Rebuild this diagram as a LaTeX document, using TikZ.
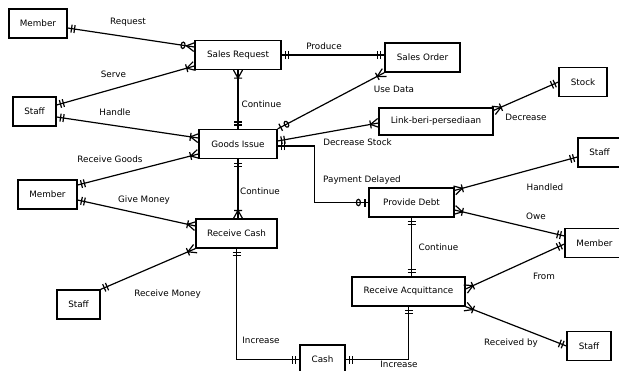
\documentclass[tikz,border=0pt]{standalone}
\usepackage{fontspec}
\setmainfont{DejaVu Sans}
\usetikzlibrary{decorations.markings}

% crow's foot ends, drawn with the entity at the origin
\newcommand{\erOne}{\draw (-4pt,-4pt) -- (-4pt,4pt) (-7pt,-4pt) -- (-7pt,4pt);}
\newcommand{\erMany}{\draw (0pt,-4.5pt) -- (-8pt,0pt) -- (0pt,4.5pt) (-8pt,-4pt) -- (-8pt,4pt);}
\newcommand{\erZeroMany}{\draw (0pt,-4.5pt) -- (-8pt,0pt) -- (0pt,4.5pt); \draw (-11.5pt,0pt) ellipse (2pt and 3.2pt);}
\newcommand{\erZeroOne}{\draw (-3.5pt,-4pt) -- (-3.5pt,4pt); \draw (-10pt,0pt) ellipse (2pt and 3.2pt);}

\begin{document}
\begin{tikzpicture}[x=1pt, y=-1pt, very thick, font=\fontsize{8.8}{10}\selectfont,
    ent/.style = {draw, rectangle, minimum height=29pt, inner sep=0pt},
    begin mark/.style = {postaction={decorate, decoration={markings, mark=at position 0 with {\pgftransformxscale{-1}#1}}}},
    end mark/.style = {postaction={decorate, decoration={markings, mark=at position 1 with {#1}}}}]
    \useasboundingbox (0,0) rectangle (619,370);
    % entities
    \node[ent, minimum width=58pt] (1) at (38,23.5) {Member};
    \node[ent, minimum width=86pt] (2) at (238,55) {Sales Request};
    \node[ent, minimum width=75pt] (3) at (422.5,57.5) {Sales Order};
    \node[ent, minimum width=43pt] (4) at (34.5,111.5) {Staff};
    \node[ent, minimum width=48pt] (5) at (583,82) {Stock};
    \node[ent, minimum width=114pt, minimum height=27pt] (6) at (436,121.5) {Link-beri-persediaan};
    \node[ent, minimum width=78pt] (7) at (238,144) {Goods Issue};
    \node[ent, minimum width=59pt] (8) at (47.5,194.5) {Member};
    \node[ent, minimum width=81pt] (9) at (236.5,233.5) {Receive Cash};
    \node[ent, minimum width=43pt] (10) at (599.5,152.5) {Staff};
    \node[ent, minimum width=85pt] (11) at (411.5,202.5) {Provide Debt};
    \node[ent, minimum width=59pt] (12) at (594.5,243) {Member};
    \node[ent, minimum width=43pt] (13) at (78.5,304.5) {Staff};
    \node[ent, minimum width=113pt] (14) at (408.5,291.5) {Receive Acquittance};
    \node[ent, minimum width=44pt] (15) at (589,346) {Staff};
    \node[ent, minimum width=45pt] (16) at (322.5,359.5) {Cash};

    % relations
    \draw[begin mark=\erOne, end mark=\erZeroMany] ([yshift=-4.5pt]1.east) -- ([yshift=8pt]2.west);
    \draw[begin mark=\erOne, end mark=\erMany] ([yshift=6.5pt]4.east) -- ([yshift=-11pt]2.west);
    \draw[begin mark=\erOne, end mark=\erOne] (2.east) -- (2.east -| 3.west);
    \draw[begin mark=\erMany, end mark=\erOne] (2.south) -- (7.north);
    \draw[begin mark=\erZeroOne, end mark=\erMany] (7.north east) -- (3.south west);
    \draw[begin mark=\erOne, end mark=\erMany] ([yshift=-5.5pt]4.east) -- ([yshift=6pt]7.west);
    \draw[begin mark=\erOne, end mark=\erMany] ([yshift=3pt]7.east) -- ([yshift=-1.5pt]6.west);
    \draw[begin mark=\erMany, end mark=\erOne] ([yshift=-3pt]6.north east) -- (5.west);
    \draw[begin mark=\erOne, end mark=\erZeroOne] ([yshift=-2pt]7.east) -- ++(37,0) |- (11.west);
    \draw[begin mark=\erOne, end mark=\erMany] ([yshift=9.5pt]8.east) -- ([yshift=-10pt]7.west);
    \draw[begin mark=\erOne, end mark=\erMany] ([yshift=-5.5pt]8.east) -- ([yshift=7.5pt]9.west);
    \draw[begin mark=\erOne, end mark=\erMany] (7.south) -- (7.south |- 9.north);
    \draw[begin mark=\erOne, end mark=\erMany] (13.north east) -- (9.south west);
    \draw[begin mark=\erOne, end mark=\erOne] (9.south) |- (16.west);
    \draw[begin mark=\erOne, end mark=\erOne] (16.east) -| (14.south);
    \draw[begin mark=\erOne, end mark=\erOne] (11.south) -- (11.south |- 14.north);
    \draw[begin mark=\erMany, end mark=\erOne] ([yshift=-3pt]11.north east) -- ([yshift=-4.5pt]10.west);
    \draw[begin mark=\erMany, end mark=\erOne] ([yshift=-7.5pt]11.east) -- ([yshift=7pt]12.west);
    \draw[begin mark=\erMany, end mark=\erOne] ([yshift=2.5pt]14.east) -- ([yshift=-1pt]12.west);
    \draw[begin mark=\erMany, end mark=\erOne] (14.south east) -- (15.west);

    % relation names
    \node (r1) at (128,22) {Request};
    \node (r2) at (113.5,74) {Serve};
    \node (r3) at (115,112) {Handle};
    \node (r4) at (324,46) {Produce};
    \node (r5) at (261.5,104) {Continue};
    \node (r6) at (394,89) {Use Data};
    \node (r7) at (526,117) {Decrease};
    \node (r8) at (357.5,142) {Decrease Stock};
    \node (r9) at (362,180.5) {Payment Delayed};
    \node (r10) at (110,159) {Receive Goods};
    \node (r11) at (144,200.5) {Give Money};
    \node (r12) at (260,191.5) {Continue};
    \node (r13) at (545,187) {Handled};
    \node (r14) at (536,216) {Owe};
    \node (r15) at (438.5,247) {Continue};
    \node (r16) at (544,276) {From};
    \node (r17) at (167.5,294) {Receive Money};
    \node (r18) at (511,343) {Received by};
    \node (r19) at (261,340) {Increase};
    \node (r20) at (399,364.5) {Increase};
\end{tikzpicture}
\end{document}
